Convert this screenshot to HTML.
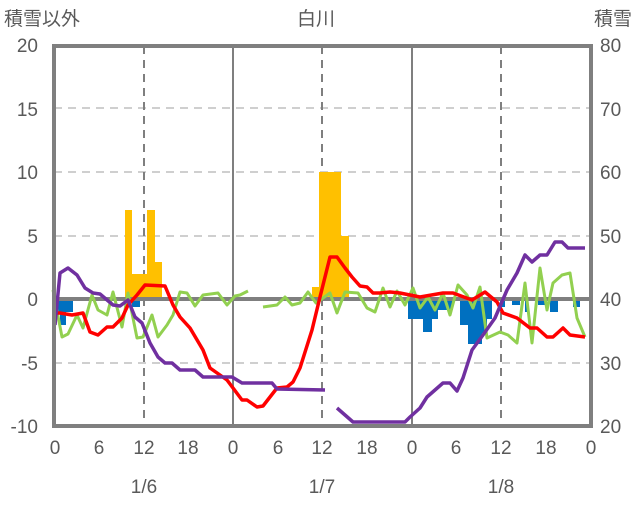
<!DOCTYPE html>
<html><head><meta charset="utf-8"><style>
html,body{margin:0;padding:0;background:#fff;}
svg text{font-family:"Liberation Sans","Noto Sans CJK JP",sans-serif;fill:#595959;font-size:19px;}
</style></head><body>
<svg width="636" height="501" viewBox="0 0 636 501" xmlns="http://www.w3.org/2000/svg">
<!-- grid -->
<g stroke="#bfbfbf" stroke-width="1.5" stroke-dasharray="8,6">
<line x1="54" y1="108" x2="591" y2="108"/>
<line x1="54" y1="172" x2="591" y2="172"/>
<line x1="54" y1="236" x2="591" y2="236"/>
<line x1="54" y1="363" x2="591" y2="363"/>
</g>
<g stroke="#7f7f7f" stroke-width="2" stroke-dasharray="8,6">
<line x1="144" y1="46" x2="144" y2="426"/>
<line x1="322" y1="46" x2="322" y2="426"/>
<line x1="501" y1="46" x2="501" y2="426"/>
</g>
<g stroke="#7f7f7f" stroke-width="2">
<line x1="233" y1="46" x2="233" y2="426"/>
<line x1="412" y1="46" x2="412" y2="426"/>
</g>
<!-- yellow bars -->
<g fill="#ffc000">
<rect x="125" y="210" width="7" height="89"/>
<rect x="132" y="274" width="15" height="25"/>
<rect x="147" y="210" width="8" height="89"/>
<rect x="155" y="262" width="7" height="37"/>
<rect x="312" y="287" width="7" height="12"/>
<rect x="319" y="172" width="22" height="127"/>
<rect x="341" y="236" width="8" height="63"/>
</g>
<!-- blue bars -->
<g fill="#0070c0">
<rect x="55" y="299" width="18" height="13"/>
<rect x="60" y="299" width="6" height="26"/>
<rect x="132" y="299" width="8" height="8"/>
<rect x="408" y="299" width="15" height="20"/>
<rect x="423" y="299" width="9" height="33"/>
<rect x="432" y="299" width="6" height="20"/>
<rect x="438" y="299" width="15" height="11"/>
<rect x="460" y="299" width="8" height="26"/>
<rect x="468" y="299" width="14" height="45"/>
<rect x="482" y="299" width="5" height="34"/>
<rect x="487" y="299" width="5" height="20"/>
<rect x="500" y="299" width="5" height="8"/>
<rect x="512" y="299" width="8" height="6"/>
<rect x="525" y="299" width="3" height="13"/>
<rect x="538" y="299" width="9" height="6"/>
<rect x="550" y="299" width="8" height="13"/>
<rect x="573" y="299" width="7" height="8"/>
</g>
<!-- zero line -->
<line x1="54" y1="299" x2="591" y2="299" stroke="#7f7f7f" stroke-width="4"/>
<!-- green -->
<g fill="none" stroke="#92d050" stroke-width="3" stroke-linejoin="round">
<polyline points="53,290 62,337 68,334 77,315 83,328 92,295 98,310 107,315 113,292 122,327 128,293 137,338 143,337 152,315 158,337 167,325 173,315 180,292 187,293 195,306 203,295 218,293 227,305 235,296 240,295 248,291"/>
<polyline points="263,307 277,305 285,297 292,305 300,303 308,292 316,303 330,293 337,313 345,292 358,293 367,308 375,312 383,288 390,307 397,291 405,305 413,288 420,308 428,297 435,310 443,293 450,315 458,285 467,295 473,308 480,287 487,338 500,332 508,335 517,343 525,283 532,343 540,268 547,310 553,283 562,275 570,273 577,318 585,337"/>
</g>
<!-- red -->
<polyline fill="none" stroke="#ff0000" stroke-width="3.5" stroke-linejoin="round" points="55,313 60,313 72,315 83,313 90,332 98,335 107,327 113,327 122,318 128,305 137,295 145,285 165,286 173,305 180,317 190,328 203,350 210,368 227,380 242,400 247,400 257,407 263,406 277,388 287,387 293,382 300,368 312,330 320,297 330,257 337,257 345,268 352,277 360,286 367,287 373,293 380,293 390,292 400,293 420,297 443,293 453,293 472,300 485,292 497,302 503,313 517,318 530,328 537,328 547,337 553,337 563,328 570,335 585,337"/>
<!-- purple -->
<g fill="none" stroke="#7030a0" stroke-width="3.5" stroke-linejoin="round">
<polyline points="55,325 60,273 68,268 77,275 85,288 93,293 100,294 113,305 120,306 128,300 135,317 142,323 150,343 158,357 165,363 172,363 180,370 195,370 203,377 232,377 242,383 272,383 277,389 325,390"/>
<polyline points="337,408 353,422 405,422 410,417 420,408 427,397 443,383 450,383 457,391 463,378 472,350 483,335 495,318 507,290 517,273 525,255 532,262 540,255 547,255 555,242 562,242 568,248 585,248"/>
</g>
<!-- frame -->
<rect x="54" y="46" width="537" height="380" fill="none" stroke="#7f7f7f" stroke-width="4"/>
<!-- labels -->
<text x="316" y="25" text-anchor="middle">白川</text>
<text x="4" y="25">積雪以外</text>
<text x="632" y="25" text-anchor="end">積雪</text>
<g text-anchor="end">
<text x="38" y="52">20</text><text x="38" y="116">15</text><text x="38" y="179">10</text><text x="38" y="243">5</text><text x="38" y="306">0</text><text x="38" y="370">-5</text><text x="38" y="433">-10</text>
</g>
<g text-anchor="start">
<text x="600" y="52">80</text><text x="600" y="116">70</text><text x="600" y="179">60</text><text x="600" y="243">50</text><text x="600" y="306">40</text><text x="600" y="370">30</text><text x="600" y="433">20</text>
</g>
<g text-anchor="middle">
<text x="55" y="454">0</text><text x="99" y="454">6</text><text x="144" y="454">12</text><text x="188" y="454">18</text>
<text x="233" y="454">0</text><text x="278" y="454">6</text><text x="322" y="454">12</text><text x="367" y="454">18</text>
<text x="412" y="454">0</text><text x="456" y="454">6</text><text x="501" y="454">12</text><text x="546" y="454">18</text><text x="591" y="454">0</text>
<text x="144" y="493">1/6</text><text x="322" y="493">1/7</text><text x="501" y="493">1/8</text>
</g>
</svg>
</body></html>
